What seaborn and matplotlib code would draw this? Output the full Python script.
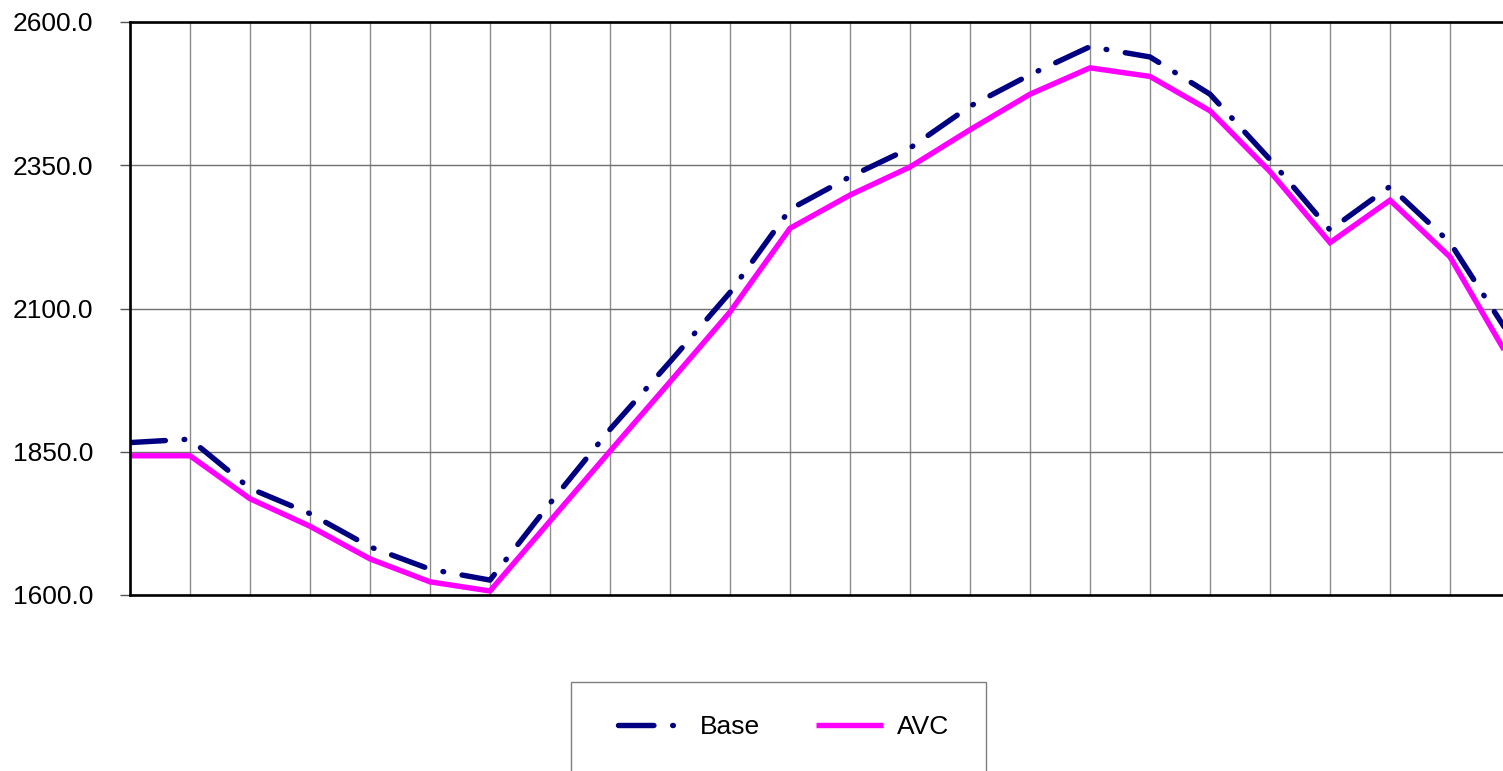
import matplotlib
matplotlib.use("Agg")
import matplotlib.pyplot as plt
from matplotlib.patches import Rectangle
import pandas as pd
import seaborn as sns

# Series values, one per period
periods = list(range(24))
base = [1866, 1872, 1786, 1742, 1684, 1645, 1626, 1760, 1889, 2007, 2128, 2273,
        2330, 2380, 2453, 2508, 2557, 2539, 2474, 2360, 2237, 2313, 2215, 2052]
avc = [1843, 1843, 1768, 1720, 1663, 1623, 1607, 1729, 1851, 1972, 2094, 2240,
       2298, 2347, 2412, 2474, 2520, 2505, 2445, 2339, 2215, 2289, 2190, 2010]
series_names = ["Base", "AVC"]
y_ticks = [1600.0, 1850.0, 2100.0, 2350.0, 2600.0]

df = pd.DataFrame({
    "period": periods * 2,
    "value": base + avc,
    "series": [series_names[0]] * len(base) + [series_names[1]] * len(avc),
})

sns.set_style("white")
plt.rcParams["font.family"] = ["Liberation Sans", "DejaVu Sans"]
plt.rcParams["text.color"] = "black"
plt.rcParams["lines.scale_dashes"] = False
plt.rcParams["lines.dash_capstyle"] = "round"
plt.rcParams["lines.solid_capstyle"] = "butt"
plt.rcParams["lines.solid_joinstyle"] = "miter"

fig = plt.figure(figsize=(15.03, 7.71), dpi=100)
ax = fig.add_axes([130 / 1503, 176 / 771, 1380 / 1503, 573 / 771])

palette = {"Base": "#000080", "AVC": "#FF00FF"}
dashes = {"Base": (25.5, 13.5, 0.5, 13.5), "AVC": ""}
sns.lineplot(data=df, x="period", y="value", hue="series", style="series",
             palette=palette, dashes=dashes, linewidth=3.9, ax=ax,
             legend=False, sort=False)

ax.set_xlim(0, 23)
ax.set_ylim(1600, 2600)
ax.set_xticks(periods)
ax.set_yticks(y_ticks)
ax.set_yticklabels([f"{v:.1f}" for v in y_ticks])
ax.set_xlabel("")
ax.set_ylabel("")
ax.grid(True, axis="x", color="#8c8c8c", linewidth=1.0)
ax.grid(True, axis="y", color="#707070", linewidth=1.0)
ax.set_axisbelow(True)
ax.tick_params(axis="x", length=0, labelbottom=False)
ax.tick_params(axis="y", direction="out", length=7.5, width=1.0, color="#555555",
               labelsize=19, pad=19, left=True, labelcolor="black")
for side in ["left", "top", "bottom", "right"]:
    ax.spines[side].set_visible(True)
    ax.spines[side].set_color("black")
    ax.spines[side].set_linewidth(1.9)

# Legend panel: a plain frame with the two series keys centred inside
fig.patches.append(Rectangle((571 / 1503, -0.05), 415 / 1503, (771 - 682) / 771 + 0.05,
                             transform=fig.transFigure, facecolor="white",
                             edgecolor="#7f7f7f", linewidth=1.0, zorder=0))
handles = ax.get_lines()[:2]
leg = fig.legend(handles, series_names, loc="center", ncol=2,
                 bbox_to_anchor=(784 / 1503, 44 / 771),
                 frameon=False, fontsize=19, handlelength=2.55,
                 handletextpad=0.55, columnspacing=2.1)
for t in leg.get_texts():
    t.set_color("black")

fig.savefig("out.png", dpi=100)
